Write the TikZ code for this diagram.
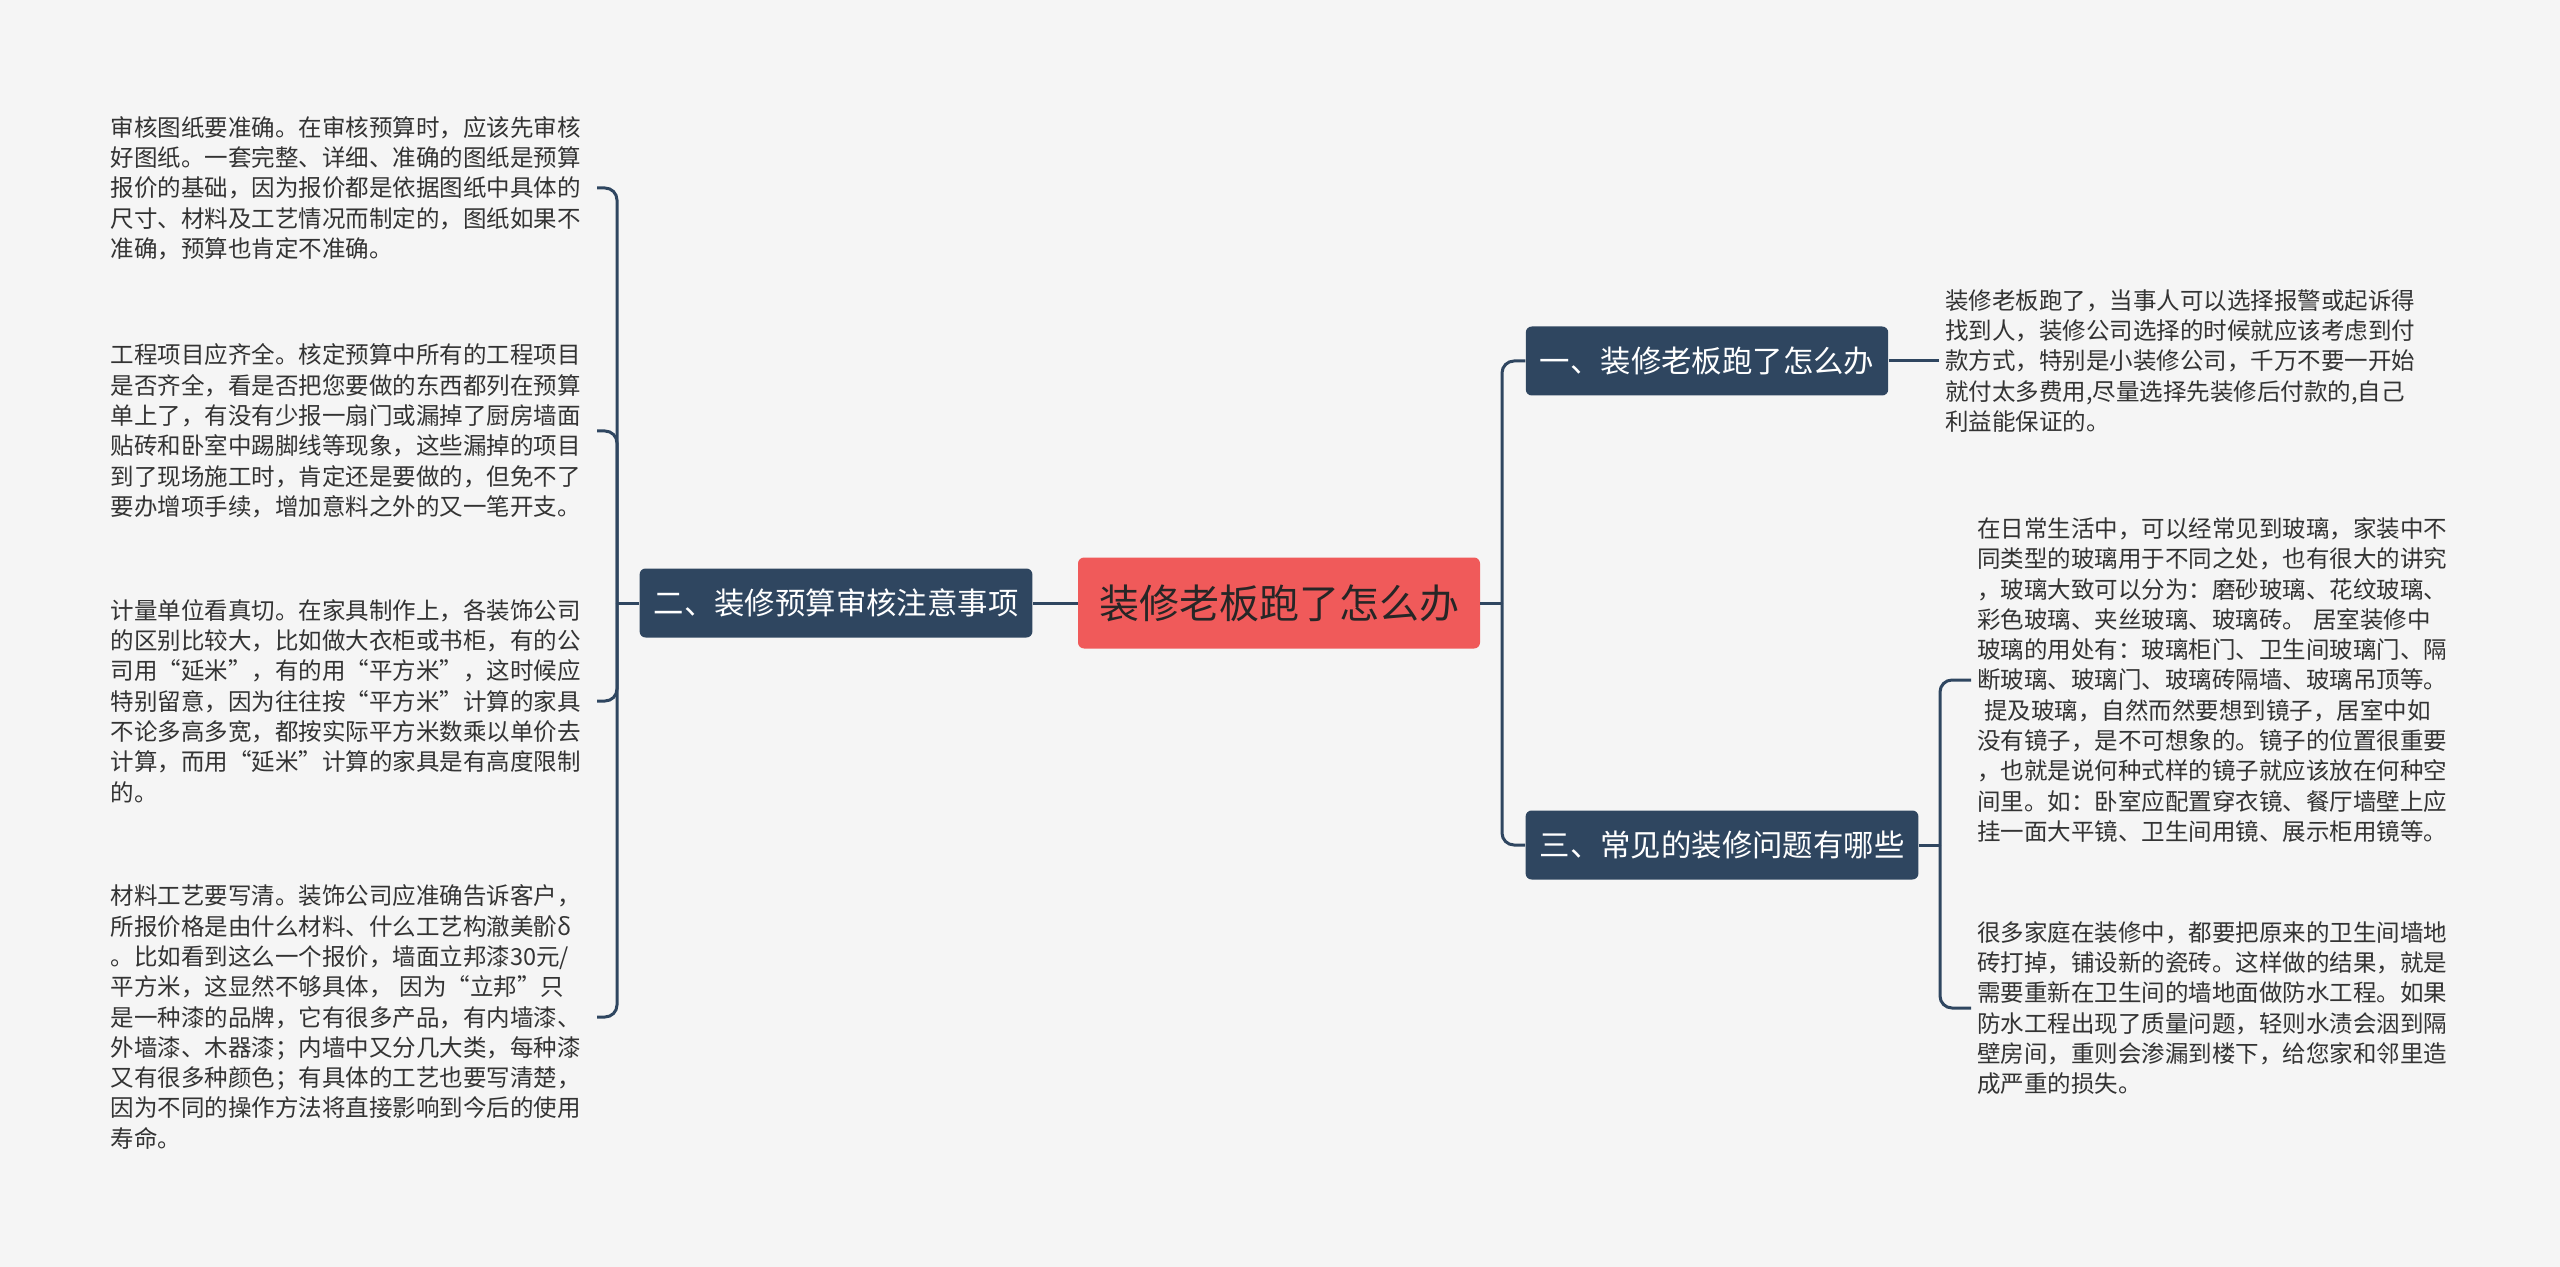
\documentclass[tikz,border=0pt]{standalone}
\usepackage{fontspec}
\setmainfont{Noto Sans CJK SC}
\definecolor{bgcol}{HTML}{F5F5F5}
\definecolor{topiccol}{HTML}{2F4660}
\definecolor{rootcol}{HTML}{F05A5A}
\definecolor{leafcol}{HTML}{333333}
\tikzset{
  conn/.style={draw=topiccol, line width=1.5pt, rounded corners=6pt},
  rootbox/.style={fill=rootcol, text=black!85, rounded corners=3pt, font=\fontsize{20}{24}\selectfont, minimum height=45.5pt, inner xsep=10.5pt},
  topicbox/.style={fill=topiccol, text=white, rounded corners=3pt, font=\fontsize{15.2}{18}\selectfont, minimum height=34.5pt, inner xsep=7pt},
  leafnote/.style={text=leafcol, font=\fontsize{11.75}{15.15}\selectfont, align=left, text width=240pt, inner sep=3pt},
}
\begin{document}
\begin{tikzpicture}[x=0.5pt,y=-0.5pt]
    \fill[bgcol] (0,0) rectangle (2560,1267);
    \useasboundingbox (0,0) rectangle (2560,1267);
    % centre and topics
    \node[rootbox] (root) at (1279,603) {装修老板跑了怎么办};
    \node[topicbox] (ltwo) at (836,603) {二、装修预算审核注意事项};
    \node[topicbox] (tone) at (1707,361) {一、装修老板跑了怎么办};
    \node[topicbox] (tthree) at (1722,845) {三、常见的装修问题有哪些};
    % left notes
    \node[leafnote, anchor=east] (la) at (597,188) {审核图纸要准确。在审核预算时，应该先审核\\好图纸。一套完整、详细、准确的图纸是预算\\报价的基础，因为报价都是依据图纸中具体的\\尺寸、材料及工艺情况而制定的，图纸如果不\\准确，预算也肯定不准确。};
    \node[leafnote, anchor=east] (lb) at (597,431) {工程项目应齐全。核定预算中所有的工程项目\\是否齐全，看是否把您要做的东西都列在预算\\单上了，有没有少报一扇门或漏掉了厨房墙面\\贴砖和卧室中踢脚线等现象，这些漏掉的项目\\到了现场施工时，肯定还是要做的，但免不了\\要办增项手续，增加意料之外的又一笔开支。};
    \node[leafnote, anchor=east] (lc) at (597,701) {计量单位看真切。在家具制作上，各装饰公司\\的区别比较大，比如做大衣柜或书柜，有的公\\司用“延米”，有的用“平方米”，这时候应\\特别留意，因为往往按“平方米”计算的家具\\不论多高多宽，都按实际平方米数乘以单价去\\计算，而用“延米”计算的家具是有高度限制\\的。};
    \node[leafnote, anchor=east] (ld) at (597,1017) {材料工艺要写清。装饰公司应准确告诉客户，\\所报价格是由什么材料、什么工艺构澈美骱δ\\。比如看到这么一个报价，墙面立邦漆30元/\\平方米，这显然不够具体，\hspace{0.3em}因为“立邦”只\\是一种漆的品牌，它有很多产品，有内墙漆、\\外墙漆、木器漆；内墙中又分几大类，每种漆\\又有很多种颜色；有具体的工艺也要写清楚，\\因为不同的操作方法将直接影响到今后的使用\\寿命。};
    % right notes
    \node[leafnote, anchor=west] (rone) at (1939,361) {装修老板跑了，当事人可以选择报警或起诉得\\找到人，装修公司选择的时候就应该考虑到付\\款方式，特别是小装修公司，千万不要一开始\\就付太多费用,尽量选择先装修后付款的,自己\\利益能保证的。};
    \node[leafnote, anchor=west] (rthreea) at (1971,680) {在日常生活中，可以经常见到玻璃，家装中不\\同类型的玻璃用于不同之处，也有很大的讲究\\，玻璃大致可以分为：磨砂玻璃、花纹玻璃、\\彩色玻璃、夹丝玻璃、玻璃砖。\hspace{0.3em}居室装修中\\玻璃的用处有：玻璃柜门、卫生间玻璃门、隔\\断玻璃、玻璃门、玻璃砖隔墙、玻璃吊顶等。\\\hspace*{0.3em}提及玻璃，自然而然要想到镜子，居室中如\\没有镜子，是不可想象的。镜子的位置很重要\\，也就是说何种式样的镜子就应该放在何种空\\间里。如：卧室应配置穿衣镜、餐厅墙壁上应\\挂一面大平镜、卫生间用镜、展示柜用镜等。};
    \node[leafnote, anchor=west] (rthreeb) at (1971,1008) {很多家庭在装修中，都要把原来的卫生间墙地\\砖打掉，铺设新的瓷砖。这样做的结果，就是\\需要重新在卫生间的墙地面做防水工程。如果\\防水工程出现了质量问题，轻则水渍会洇到隔\\壁房间，重则会渗漏到楼下，给您家和邻里造\\成严重的损失。};
    % connectors
    \coordinate (lspine) at (617,603);
    \coordinate (rspine) at (1502,603);
    \coordinate (tspine) at (1940,845);
    \draw[conn] (root.west) -- (ltwo.east);
    \draw[conn] (ltwo.west) -- (lspine);
    \foreach \n in {la,lb,lc,ld}
        \draw[conn] (lspine) |- (\n.east);
    \draw[conn] (root.east) -- (rspine);
    \draw[conn] (rspine) |- (tone.west);
    \draw[conn] (rspine) |- (tthree.west);
    \draw[conn] (tone.east) -- (rone.west);
    \draw[conn] (tthree.east) -- (tspine);
    \draw[conn] (tspine) |- (rthreea.west);
    \draw[conn] (tspine) |- (rthreeb.west);
\end{tikzpicture}
\end{document}
